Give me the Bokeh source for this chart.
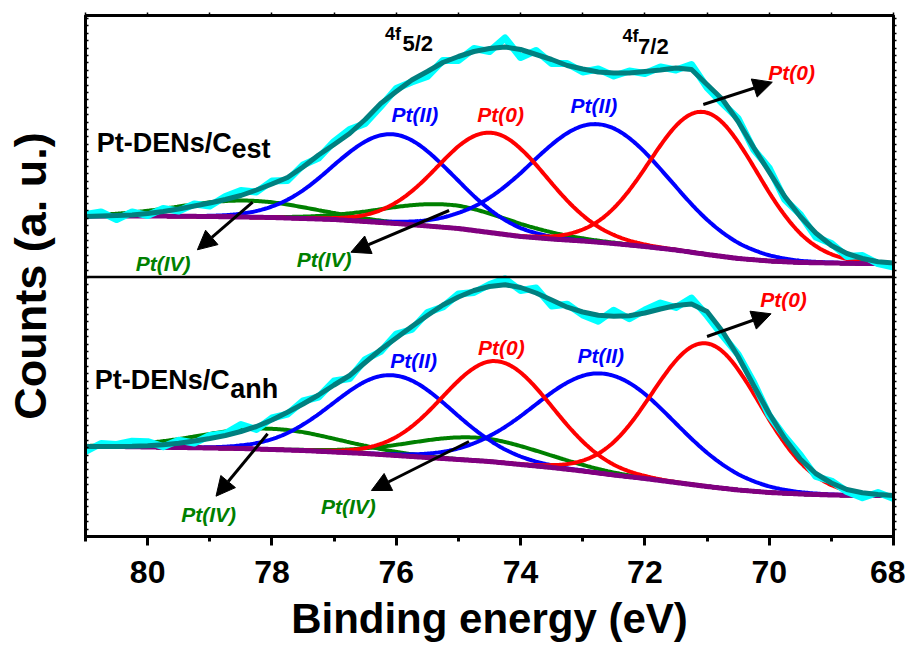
import numpy as np
from bokeh.plotting import figure
from bokeh.models import Range1d, FixedTicker, LinearAxis, Span, Arrow, NormalHead, Label
from bokeh.embed import file_html
from bokeh.resources import INLINE

# ---------------- data ----------------
# binding energy grid of the measured spectrum / envelope (eV)
energy = [81.0 - 0.25 * i for i in range(53)]

# fitted envelope, Pt-DENs/Cest (upper trace, arbitrary counts)
upper_fit = [320, 320.5, 321, 321.5, 323, 325, 327.5, 330.5, 333.5, 337,
             341, 346.5, 352.5, 359, 369.5, 381.5, 392, 403, 417, 433,
             445, 456.5, 465, 474, 480, 485, 488, 489.5, 487, 482,
             477, 471, 467.5, 464.5, 463.5, 463.5, 465, 466.5, 468.5, 467,
             452, 437, 415, 389, 364.5, 340, 320, 303.5, 291, 283,
             278, 274.8, 273.5]
# measured minus fit, upper trace
upper_resid = [2, 4, -4, 3, -2, 3, -2, 2, -3, 3, 5, -2, 3, -3, 2, -3, 3, 4, -4, -3,
               3, -2, -5, 2, -4, 3, -3, 9, -8, 4, -4, 2, -3, 3, -3, 2, -2, 3, -2, 5,
               -3, -4, 3, -2, 4, -3, 2, -4, 2, -3, 3, -2, -4]

# fitted envelope, Pt-DENs/Canh (lower trace)
lower_fit = [90, 90, 90, 90.2, 90.8, 91.8, 93.3, 95.5, 98, 101,
             105, 110, 116.5, 124.3, 132.5, 141.5, 151.5, 161, 174, 187,
             198.5, 210, 221, 231.5, 239.5, 246, 250, 251.7, 249, 243.5,
             236.5, 229.3, 224.5, 221.3, 220.3, 220.8, 223.5, 227.5, 231, 232.5,
             225, 205, 180, 151, 123, 98, 77.5, 63, 53.5, 47,
             43.8, 42, 41]
lower_resid = [-5, 3, 2, 5, 4, -2, 3, -2, 3, 2, 7, -3, 2, -2, 3, -2, 4, -3, 3, -2,
               4, -3, 3, -2, 3, -2, 2, 6, -3, 5, -6, 3, -3, -6, 6, -3, 3, 6, -2, 6,
               -4, -4, 2, 3, -2, 2, 4, -3, 2, -2, -5, 2, -3]

# Shirley backgrounds
bg_energy = [81.0 - 0.5 * i for i in range(27)]
upper_bg = [320.5, 320.5, 320.5, 320.3, 320, 319.5, 319, 318, 317, 315,
            313, 310.5, 308, 304, 300, 297.5, 295.5, 293, 290, 286.5,
            282, 278, 275.5, 274, 273.5, 273, 273]
lower_bg = [90, 90, 89.5, 89, 88.5, 88, 87, 86, 84.5, 83,
            81, 79, 77, 75, 72, 69, 65.5, 61.5, 58, 54,
            50, 46.5, 44, 42.5, 41.5, 41, 41]

# fitted components: Pt(II) 5/2, Pt(0) 5/2, Pt(II) 7/2, Pt(0) 7/2, Pt(IV) 5/2, Pt(IV) 7/2
component_colors = ["#0000FF", "#FF0000", "#0000FF", "#FF0000", "#008000", "#008000"]
upper_centers = [76.06, 74.45, 72.75, 71.05, 78.42, 75.15]
upper_heights = [89, 100, 118, 142, 16.5, 23]
upper_sigmas = [0.95, 0.88, 1.12, 0.87, 1.05, 1.05]
lower_centers = [76.06, 74.38, 72.65, 71.01, 78.04, 74.70]
lower_heights = [80, 101, 100, 143, 20.7, 23]
lower_sigmas = [0.96, 0.88, 1.12, 0.87, 1.1, 1.05]

# annotation texts and positions (eV, counts)
upper_label_text = ["Pt(II)", "Pt(0)", "Pt(II)", "Pt(0)", "Pt(IV)", "Pt(IV)"]
upper_label_x = [75.70, 74.32, 72.82, 69.64, 79.75, 77.16]
upper_label_y = [422, 422, 431.5, 464.5, 273, 277]
lower_label_text = ["Pt(II)", "Pt(0)", "Pt(II)", "Pt(0)", "Pt(IV)", "Pt(IV)"]
lower_label_x = [75.72, 74.31, 72.71, 69.77, 79.02, 76.77]
lower_label_y = [176.5, 189.5, 181, 237, 22, 30]
label_colors = ["#0000FF", "#FF0000", "#0000FF", "#FF0000", "#008000", "#008000"]

sample_main = ["Pt-DENs/C", "Pt-DENs/C"]
sample_sub = ["est", "anh"]
sample_main_x = [80.82, 80.85]
sample_main_y = [394, 156.5]
sample_sub_x = [78.65, 78.67]
sample_sub_y = [387.5, 147.5]

orbital_main = ["4f", "4f"]
orbital_sub = ["5/2", "7/2"]
orbital_main_x = [76.18, 72.36]
orbital_main_y = [503, 500.7]
orbital_sub_x = [75.90, 72.11]
orbital_sub_y = [493, 490.2]

arrow_x0 = [71.06, 78.31, 75.15, 71.00, 78.07, 74.83]
arrow_y0 = [432, 334.3, 326, 200, 102.7, 95]
arrow_x1 = [69.95, 79.20, 76.73, 69.97, 78.90, 76.40]
arrow_y1 = [454.3, 286.7, 284.3, 222.7, 40.3, 46]

x_major = [80, 78, 76, 74, 72, 70, 68]
x_minor = [81, 79, 77, 75, 73, 71, 69]
panel_split = 259.5

FONT = "Liberation Sans"

# ---------------- figure ----------------
p = figure(width=905, height=648, x_range=Range1d(81, 68), y_range=Range1d(0, 521),
           output_backend="svg", toolbar_location=None,
           min_border_left=85, min_border_right=12, min_border_top=15, min_border_bottom=112)
p.grid.visible = False
p.outline_line_color = "black"
p.outline_line_width = 3

xa = p.xaxis[0]
xa.ticker = FixedTicker(ticks=x_major, minor_ticks=x_minor)
xa.axis_line_width = 3
xa.major_tick_line_width = 3
xa.minor_tick_line_width = 3
xa.major_tick_out = 9
xa.major_tick_in = 0
xa.minor_tick_out = 5
xa.minor_tick_in = 0
xa.major_label_text_font = FONT
xa.major_label_text_font_style = "bold"
xa.major_label_text_font_size = "32px"
xa.major_label_text_color = "black"
xa.major_label_standoff = 15
xa.axis_label = "Binding energy (eV)"
xa.axis_label_text_font = FONT
xa.axis_label_text_font_style = "bold"
xa.axis_label_text_font_size = "42px"
xa.axis_label_text_color = "black"
xa.axis_label_standoff = 9

ya = p.yaxis[0]
ya.ticker = FixedTicker(ticks=[], minor_ticks=list(np.arange(7.4, 521, 7.4)))
ya.axis_line_width = 3
ya.minor_tick_in = 3
ya.minor_tick_out = 0
ya.minor_tick_line_width = 1.5
ya.major_tick_in = 0
ya.major_tick_out = 0
ya.major_label_text_font_size = "0px"
ya.major_label_standoff = 0
ya.axis_label = "Counts (a. u.)"
ya.axis_label_text_font = FONT
ya.axis_label_text_font_style = "bold"
ya.axis_label_text_font_size = "45px"
ya.axis_label_text_color = "black"
ya.axis_label_standoff = 30

top = LinearAxis(ticker=FixedTicker(ticks=[], minor_ticks=list(range(68, 82))),
                 major_label_text_font_size="0px", major_label_standoff=0,
                 axis_line_width=3, minor_tick_out=3, minor_tick_in=0,
                 minor_tick_line_width=1.5, major_tick_out=0, major_tick_in=0)
p.add_layout(top, "above")
right = LinearAxis(ticker=FixedTicker(ticks=[], minor_ticks=list(np.arange(7.4, 521, 7.4))),
                   major_label_text_font_size="0px", major_label_standoff=0,
                   axis_line_width=3, minor_tick_out=3, minor_tick_in=0,
                   minor_tick_line_width=1.5, major_tick_out=0, major_tick_in=0)
p.add_layout(right, "right")

p.add_layout(Span(location=panel_split, dimension="width", line_color="black", line_width=2.5))

# ---------------- curves ----------------
fine_e = np.linspace(81, 68, 521)
e_arr = np.array(energy)

for fit, resid, bg, cs, hs, ss in [
        (upper_fit, upper_resid, upper_bg, upper_centers, upper_heights, upper_sigmas),
        (lower_fit, lower_resid, lower_bg, lower_centers, lower_heights, lower_sigmas)]:
    bg_fine = np.interp(fine_e[::-1], bg_energy[::-1], bg[::-1])[::-1]
    order = [4, 5, 0, 2, 1, 3]
    for k in order:
        comp = bg_fine + hs[k] * np.exp(-(fine_e - cs[k]) ** 2 / (2 * ss[k] ** 2))
        p.line(fine_e, comp, line_color=component_colors[k], line_width=4)
    p.line(fine_e, bg_fine, line_color="#800080", line_width=5)
    raw = np.array(fit) + np.array(resid)
    p.line(e_arr, raw, line_color="#00FFFF", line_width=7, line_join="round")
    p.line(e_arr, fit, line_color="#008080", line_width=5, line_join="round")

# ---------------- annotations ----------------
for i in range(6):
    p.add_layout(Arrow(end=NormalHead(size=19, fill_color="black", line_color="black"),
                       x_start=arrow_x0[i], y_start=arrow_y0[i],
                       x_end=arrow_x1[i], y_end=arrow_y1[i],
                       line_color="black", line_width=3))

for txt, xs, ys in [(upper_label_text, upper_label_x, upper_label_y),
                    (lower_label_text, lower_label_x, lower_label_y)]:
    for i in range(6):
        p.add_layout(Label(x=xs[i], y=ys[i], text=txt[i], text_font=FONT,
                           text_font_style="bold italic", text_font_size="21px",
                           text_color=label_colors[i], text_align="center",
                           text_baseline="middle"))

def add_text(x, y, text, size):
    p.add_layout(Label(x=x, y=y, text=text, text_font=FONT, text_font_style="bold",
                       text_font_size=size, text_color="black", text_align="left",
                       text_baseline="middle"))

for i in range(2):
    add_text(sample_main_x[i], sample_main_y[i], sample_main[i], "27px")
    add_text(sample_sub_x[i], sample_sub_y[i], sample_sub[i], "27px")
    add_text(orbital_main_x[i], orbital_main_y[i], orbital_main[i], "18px")
    add_text(orbital_sub_x[i], orbital_sub_y[i], orbital_sub[i], "22px")

open("out.html", "w").write(file_html(p, INLINE))
